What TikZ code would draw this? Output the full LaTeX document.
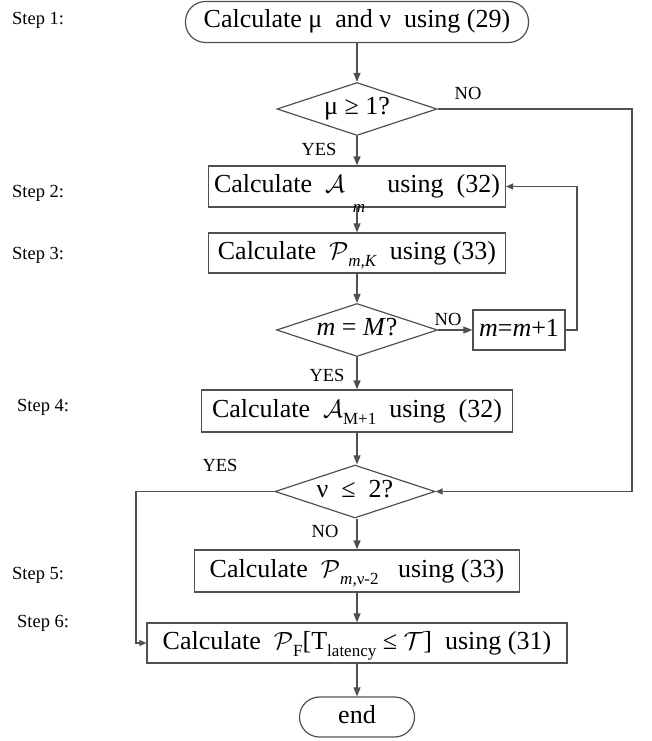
\documentclass[tikz,border=0pt]{standalone}
\usepackage{fontspec}
\setmainfont{Liberation Serif}
\usetikzlibrary{shapes.geometric,arrows.meta}
\definecolor{linegray}{RGB}{80,80,80}
\newcommand\mainfs{\fontsize{26}{30}\selectfont}
\newcommand\lblfs{\fontsize{18.5}{21}\selectfont}
\newcommand\lowsub[2][0.3em]{\raisebox{-#1}{\fontsize{17}{17}\selectfont #2}}
\tikzset{
  nodebase/.style={draw=linegray, line width=1.2pt, font=\mainfs, text=black, text height=17pt, text depth=5pt},
  box/.style={nodebase, rectangle, minimum height=41pt, inner sep=0pt},
  dia/.style={nodebase, diamond, aspect=3, inner sep=0pt, minimum width=160pt, minimum height=53pt, text height=16pt, text depth=5pt},
  term/.style={nodebase, rectangle, rounded corners=20pt, minimum height=41pt, inner sep=0pt},
  lbl/.style={font=\lblfs, inner sep=0pt},
  steplbl/.style={font=\lblfs, anchor=west, inner sep=0pt},
  flow/.style={draw=linegray, line width=1.2pt, -{Triangle[length=9pt,width=7pt]}},
  sideflow/.style={draw=linegray, line width=1.2pt, -{Triangle[length=7pt,width=6pt]}}
}
\begin{document}
\begin{tikzpicture}[x=1pt,y=-1pt]
\useasboundingbox (0,0) rectangle (651,741);
% nodes
\node[term, minimum width=343pt] (start) at (357,22) {Calculate μ\ \ and ν\ \ using (29)};
\node[dia] (d1) at (357,109) {μ ≥ 1?};
\node[box, minimum width=297pt] (b2) at (357,186.5) {Calculate\ \ $\mathcal{A}$\hspace{0.3em}\lowsub[0.75em]{\textit{m}}\hspace{0.6em} using\ \ (32)};
\node[box, minimum width=297pt, minimum height=40pt] (b3) at (357,253) {Calculate\ \ $\mathcal{P}$\lowsub{\textit{m,K}}\ \ using (33)};
\node[dia, minimum width=161pt] (d2) at (357,330) {\textit{m} = \textit{M}?};
\node[box, minimum width=92pt, minimum height=40pt] (inc) at (519,330) {\textit{m}=\textit{m}+1};
\node[box, minimum width=311pt, minimum height=42pt] (b4) at (357,411) {Calculate\ \ $\mathcal{A}$\lowsub{M+1}\ \ using\ \ (32)};
\node[dia] (d3) at (355,491.5) {ν\ \ ≤\ \ 2?};
\node[box, minimum width=325pt, minimum height=42pt] (b5) at (357,571) {Calculate\ \ $\mathcal{P}$\lowsub{\textit{m,}ν-2}\ \ \ using (33)};
\node[box, minimum width=420pt, minimum height=40pt] (b6) at (357,643) {Calculate\ \ $\mathcal{P}$\lowsub{F}[T\lowsub{latency} ≤ $\mathcal{T}$]\ \ using (31)};
\node[term, minimum width=115pt, minimum height=40pt] (fin) at (357,717) {end};
% branch labels
\node[lbl] (no1) at (468,93) {NO};
\node[lbl] (yes1) at (319,149) {YES};
\node[lbl] (no2) at (448,319) {NO};
\node[lbl] (yes2) at (327,375) {YES};
\node[lbl] (yes3) at (220,465) {YES};
\node[lbl] (no3) at (325,531) {NO};
% step labels
\node[steplbl] (s1) at (12,20) {Step 1:};
\node[steplbl] (s2) at (12,193) {Step 2:};
\node[steplbl] (s3) at (12,255) {Step 3:};
\node[steplbl] (s4) at (17,407) {Step 4:};
\node[steplbl] (s5) at (12,575) {Step 5:};
\node[steplbl] (s6) at (17,623) {Step 6:};
% connectors
\draw[flow] (start) -- (d1);
\draw[flow] (d1) -- (b2);
\draw[flow] (b2) -- (b3);
\draw[flow] (b3) -- (d2);
\draw[flow] (d2) -- (inc);
\draw[flow] (d2) -- (b4);
\draw[flow] (b4.south) -- (b4.south |- d3.north);
\draw[flow] (d3.south -| b5.north) -- (b5.north);
\draw[flow] (b5) -- (b6);
\draw[flow] (b6) -- (fin);
\coordinate (rt) at (632,109);
\draw[sideflow] (d1.east) -- (rt) |- (d3.east);
\coordinate (lp) at (577,330);
\draw[sideflow] (inc.east) -- (lp) |- (b2.east);
\coordinate (lt) at (136,491.5);
\draw[sideflow] (d3.west) -- (lt) |- (b6.west);
\end{tikzpicture}
\end{document}
